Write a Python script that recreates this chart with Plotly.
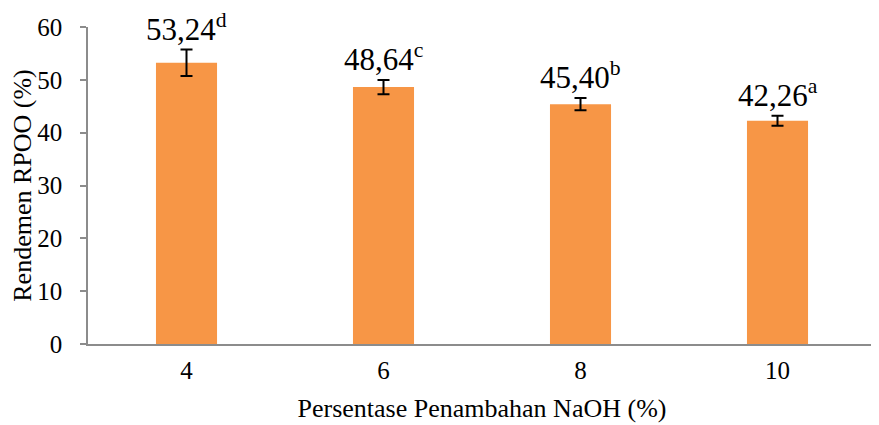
import plotly.graph_objects as go

categories = ["4", "6", "8", "10"]
values = [53.24, 48.64, 45.40, 42.26]
errors = [2.5, 1.35, 1.15, 0.95]
letters = ["d", "c", "b", "a"]
y_ticks = [0, 10, 20, 30, 40, 50, 60]

font_family = "Liberation Serif"

fig = go.Figure()
fig.add_trace(go.Bar(
    x=list(range(len(categories))), y=values,
    marker=dict(color="#F79646", line=dict(width=0)),
    width=0.31,
    error_y=dict(type="data", array=errors, visible=True, color="black", thickness=2, width=6),
))

for i, (v, e, l) in enumerate(zip(values, errors, letters)):
    fig.add_annotation(
        x=i, y=v + e, text=f"{v:.2f}".replace(".", ",") + f"<sup>{l}</sup>",
        showarrow=False, yanchor="bottom", yshift=1,
        font=dict(family=font_family, size=31, color="black"),
    )

fig.update_layout(
    width=879, height=425,
    margin=dict(l=80, r=11, t=19, b=89),
    plot_bgcolor="white", paper_bgcolor="white",
    showlegend=False,
    font=dict(family=font_family, size=26, color="black"),
)
fig.update_xaxes(
    range=[-0.5, 3.5], tickvals=list(range(len(categories))), ticktext=categories,
    showline=True, linecolor="#8C8C8C", linewidth=1.5,
    ticks="", tickfont=dict(family=font_family, size=25), showgrid=False, zeroline=False,
    title=dict(text="Persentase Penambahan NaOH (%)", font=dict(family=font_family, size=26), standoff=16),
    ticklabelstandoff=3, automargin=False,
)
fig.update_yaxes(
    range=[0, 60], tickvals=y_ticks, showline=True, linecolor="#8C8C8C", linewidth=1.5,
    ticks="outside", ticklen=6, tickcolor="#8C8C8C", tickwidth=1.5, showgrid=False,
    tickfont=dict(family=font_family, size=25), zeroline=False,
    title=dict(text="Rendemen RPOO (%)", font=dict(family=font_family, size=26), standoff=0),
    ticklabelstandoff=13, automargin=False,
)

fig.write_html("out.html")
